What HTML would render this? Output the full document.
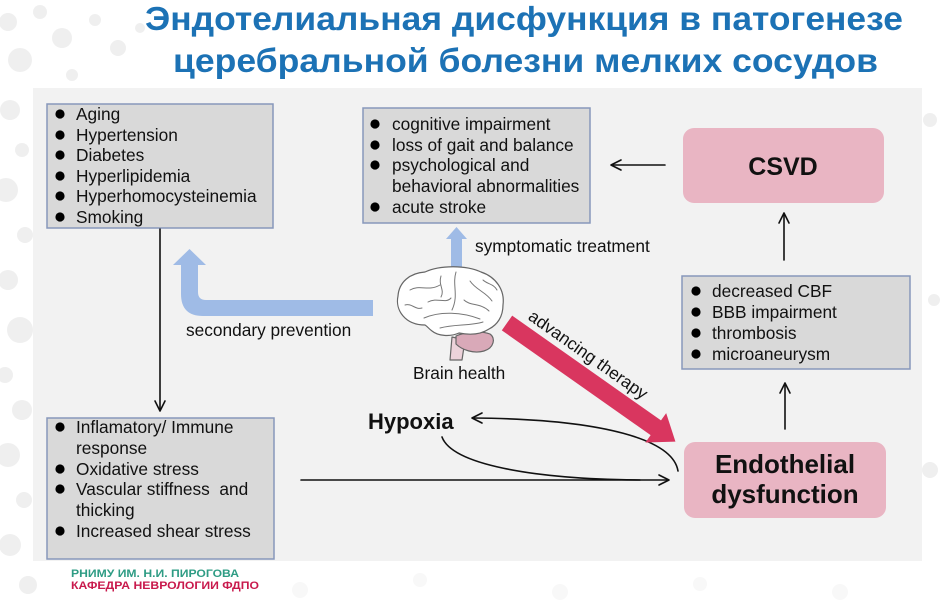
<!DOCTYPE html>
<html>
<head>
<meta charset="utf-8">
<style>
  html,body{margin:0;padding:0;background:#fff;}
  body{width:940px;height:606px;overflow:hidden;}
  svg{display:block;}
  .t{font-family:"Liberation Sans","DejaVu Sans",sans-serif;font-size:17.3px;fill:#111;}
</style>
</head>
<body>
<svg width="940" height="606" viewBox="0 0 940 606" xmlns="http://www.w3.org/2000/svg">
  <!-- background decorative dots -->
  <g fill="#efefef">
    <circle cx="8" cy="22" r="9"/>
    <circle cx="40" cy="12" r="7"/>
    <circle cx="62" cy="38" r="10"/>
    <circle cx="20" cy="60" r="12"/>
    <circle cx="95" cy="20" r="6"/>
    <circle cx="118" cy="48" r="8"/>
    <circle cx="72" cy="75" r="6"/>
    <circle cx="140" cy="28" r="5"/>
    <circle cx="10" cy="110" r="10"/>
    <circle cx="22" cy="150" r="7"/>
    <circle cx="6" cy="190" r="12"/>
    <circle cx="25" cy="235" r="8"/>
    <circle cx="8" cy="280" r="10"/>
    <circle cx="20" cy="330" r="13"/>
    <circle cx="5" cy="375" r="8"/>
    <circle cx="22" cy="410" r="10"/>
    <circle cx="8" cy="455" r="12"/>
    <circle cx="24" cy="500" r="8"/>
    <circle cx="10" cy="545" r="11"/>
    <circle cx="28" cy="585" r="9"/>
    <circle cx="930" cy="120" r="7"/>
    <circle cx="934" cy="300" r="6"/>
    <circle cx="930" cy="470" r="8"/>
  </g>
  <g fill="#f8f8f8">
    <circle cx="300" cy="590" r="8"/>
    <circle cx="420" cy="580" r="7"/>
    <circle cx="560" cy="592" r="8"/>
    <circle cx="700" cy="584" r="7"/>
    <circle cx="840" cy="592" r="8"/>
  </g>

  <!-- title -->
  <g font-family="'Liberation Sans','DejaVu Sans',sans-serif" font-weight="bold" font-size="33" fill="#1c72b5">
    <text x="145" y="30" textLength="758" lengthAdjust="spacingAndGlyphs">Эндотелиальная дисфункция в патогенезе</text>
    <text x="173" y="72" textLength="705" lengthAdjust="spacingAndGlyphs">церебральной болезни мелких сосудов</text>
  </g>

  <!-- panel -->
  <rect x="33" y="88" width="889" height="473" fill="#f2f2f2"/>

  <!-- boxes -->
  <g fill="#d9d9d9" stroke="#8798bb" stroke-width="1.5">
    <rect x="47" y="104" width="226" height="124"/>
    <rect x="363" y="108" width="227" height="115"/>
    <rect x="682" y="276" width="228" height="93"/>
    <rect x="47" y="418" width="227" height="141"/>
  </g>

  <!-- risk factors -->
  <g fill="#000">
    <circle cx="60" cy="114" r="4.6"/>
    <circle cx="60" cy="135" r="4.6"/>
    <circle cx="60" cy="155" r="4.6"/>
    <circle cx="60" cy="176" r="4.6"/>
    <circle cx="60" cy="196" r="4.6"/>
    <circle cx="60" cy="217" r="4.6"/>
  </g>
  <text class="t" x="76" y="120">Aging</text>
  <text class="t" x="76" y="141">Hypertension</text>
  <text class="t" x="76" y="161">Diabetes</text>
  <text class="t" x="76" y="182">Hyperlipidemia</text>
  <text class="t" x="76" y="202">Hyperhomocysteinemia</text>
  <text class="t" x="76" y="223">Smoking</text>

  <!-- symptoms -->
  <g fill="#000">
    <circle cx="375" cy="124" r="4.6"/>
    <circle cx="375" cy="145" r="4.6"/>
    <circle cx="375" cy="165" r="4.6"/>
    <circle cx="375" cy="207" r="4.6"/>
  </g>
  <text class="t" x="392" y="130">cognitive impairment</text>
  <text class="t" x="392" y="151">loss of gait and balance</text>
  <text class="t" x="392" y="171">psychological and</text>
  <text class="t" x="392" y="192">behavioral abnormalities</text>
  <text class="t" x="392" y="213">acute stroke</text>

  <!-- mechanisms -->
  <g fill="#000">
    <circle cx="696" cy="291" r="4.6"/>
    <circle cx="696" cy="312" r="4.6"/>
    <circle cx="696" cy="333" r="4.6"/>
    <circle cx="696" cy="354" r="4.6"/>
  </g>
  <text class="t" x="712" y="297">decreased CBF</text>
  <text class="t" x="712" y="318">BBB impairment</text>
  <text class="t" x="712" y="339">thrombosis</text>
  <text class="t" x="712" y="360">microaneurysm</text>

  <!-- bottom-left -->
  <g fill="#000">
    <circle cx="60" cy="427" r="4.6"/>
    <circle cx="60" cy="469" r="4.6"/>
    <circle cx="60" cy="489" r="4.6"/>
    <circle cx="60" cy="531" r="4.6"/>
  </g>
  <text class="t" x="76" y="433">Inflamatory/ Immune</text>
  <text class="t" x="76" y="454">response</text>
  <text class="t" x="76" y="475">Oxidative stress</text>
  <text class="t" x="76" y="495" xml:space="preserve">Vascular stiffness  and</text>
  <text class="t" x="76" y="516">thicking</text>
  <text class="t" x="76" y="537">Increased shear stress</text>

  <!-- pink boxes -->
  <rect x="683" y="128" width="201" height="75" rx="11" fill="#e9b5c3"/>
  <text x="783" y="175" text-anchor="middle" font-family="'Liberation Sans',sans-serif" font-weight="bold" font-size="25" fill="#111">CSVD</text>
  <rect x="684" y="442" width="202" height="76" rx="11" fill="#e9b5c3"/>
  <text x="785" y="473" text-anchor="middle" font-family="'Liberation Sans',sans-serif" font-weight="bold" font-size="26" fill="#111">Endothelial</text>
  <text x="785" y="503" text-anchor="middle" font-family="'Liberation Sans',sans-serif" font-weight="bold" font-size="26" fill="#111">dysfunction</text>

  <!-- black arrows -->
  <g stroke="#111" stroke-width="1.6" fill="none" stroke-linecap="round" stroke-linejoin="round">
    <line x1="160" y1="229" x2="160" y2="410"/>
    <polyline points="155,401 160,411 165,401"/>
    <line x1="301" y1="480" x2="668" y2="480"/>
    <polyline points="659,475 669,480 659,485"/>
    <line x1="785" y1="429" x2="785" y2="384"/>
    <polyline points="780,393 785,383 790,393"/>
    <line x1="784" y1="260" x2="784" y2="214"/>
    <polyline points="779,223 784,213 789,223"/>
    <line x1="665" y1="165" x2="612" y2="165"/>
    <polyline points="621,160 611,165 621,170"/>
    <path d="M678,471 C 673,440 605,419 473,418"/>
    <polyline points="482,413 472,418 482,423"/>
    <path d="M442,437 C 452,464 530,479 640,480"/>
  </g>

  <!-- blue arrows -->
  <path d="M373,300 L206,300 Q198,300 198,292 L198,265 L206,265 L189.5,249 L173,265 L181,265 L181,294 Q181,316 203,316 L373,316 Z" fill="#9fbbe6"/>
  <path d="M451,267 L451,239 L446,239 L456.5,227 L467,239 L462,239 L462,267 Z" fill="#9fbbe6"/>

  <text class="t" x="186" y="336" fill="#222">secondary prevention</text>
  <text class="t" x="475" y="252" fill="#222">symptomatic treatment</text>

  <!-- red arrow -->
  <g transform="translate(507,323) rotate(35.15)">
    <path d="M0,-9 L182,-9 L182,-18 L206,0 L182,18 L182,9 L0,9 Z" fill="#d9365f"/>
    <text class="t" x="14" y="-15" fill="#222">advancing therapy</text>
  </g>

  <!-- brain -->
  <g stroke="#666" stroke-width="1.2" stroke-linecap="round" stroke-linejoin="round">
    <path d="M452,337 L450,360 L462,360 L465,340 Z" fill="#ecd2da"/>
    <path d="M456,336 C 462,333 480,330 490,334 C 496,338 494,348 484,351 C 474,354 462,350 456,344 Z" fill="#d9a9b8"/>
    <path d="M425,325 C 405,325 395,310 398,296 C 399,282 410,273 425,272 C 440,265 466,265 481,272 C 496,277 505,290 503,305 C 503,317 497,325 489,329 C 480,335 469,335 459,333 C 450,337 438,336 432,331 C 429,329 427,326 425,325 Z" fill="#ffffff"/>
    <g fill="none" stroke="#777" stroke-width="1">
      <path d="M456,272 C 452,285 459,295 452,310"/>
      <path d="M424,318 C 440,311 462,312 480,319"/>
      <path d="M410,290 C 420,284 428,292 440,285"/>
      <path d="M470,281 C 476,290 486,292 492,301"/>
      <path d="M428,302 C 437,297 446,304 451,298"/>
      <path d="M464,300 C 470,306 481,303 489,311"/>
      <path d="M441,276 C 438,285 445,290 441,297"/>
      <path d="M440,328 C 455,324 470,326 483,322"/>
      <path d="M405,305 C 412,303 415,310 422,308"/>
      <path d="M483,280 C 487,284 494,284 497,290"/>
    </g>
  </g>
  <text class="t" x="413" y="379" fill="#222">Brain health</text>

  <!-- Hypoxia -->
  <text x="368" y="429" font-family="'Liberation Sans',sans-serif" font-weight="bold" font-size="22" fill="#111">Hypoxia</text>

  <!-- footer -->
  <text x="71" y="577" font-family="'Liberation Sans',sans-serif" font-weight="bold" font-size="11" fill="#2e9c84" textLength="168" lengthAdjust="spacingAndGlyphs">РНИМУ ИМ. Н.И. ПИРОГОВА</text>
  <text x="71" y="589" font-family="'Liberation Sans',sans-serif" font-weight="bold" font-size="11" fill="#c8194c" textLength="188" lengthAdjust="spacingAndGlyphs">КАФЕДРА НЕВРОЛОГИИ ФДПО</text>
</svg>
</body>
</html>
